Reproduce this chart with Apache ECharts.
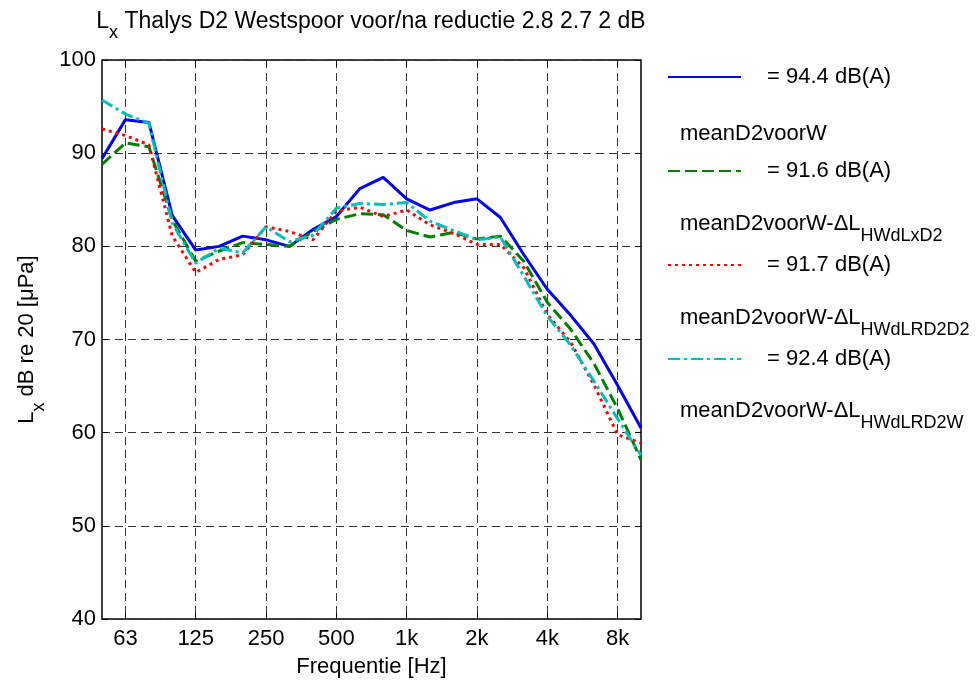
<!DOCTYPE html>
<html>
<head>
<meta charset="utf-8">
<title>Lx Thalys D2 Westspoor</title>
<script src="https://cdn.jsdelivr.net/npm/echarts@6/dist/echarts.min.js"></script>
<style>
  html, body { margin: 0; padding: 0; background: #fff; }
  #chart { width: 980px; height: 684px; }
</style>
</head>
<body>
<div id="chart"></div>
<script>
// 1/3-octave bands, only some of them get a label
const freqBands = ['50', '63', '80', '100', '125', '160', '200', '250', '315', '400', '500', '630',
  '800', '1k', '1.25k', '1.6k', '2k', '2.5k', '3.15k', '4k', '5k', '6.3k', '8k', '10k']
const labelledBands = ['63', '125', '250', '500', '1k', '2k', '4k', '8k']

const yMin = 40
const yMax = 100
const yStep = 10

const seriesNames = ['D2voorW', 'meanD2voorW', 'meanD2voorW-dL HWdLxD2', 'meanD2voorW-dL HWdLRD2D2']
const dbaTotals = ['94.4', '91.6', '91.7', '92.4']

const lxVoor = [89.4, 93.6, 93.3, 83.3, 79.6, 80.0, 81.1, 80.7, 80.0, 81.8, 83.2, 86.2,
  87.4, 85.1, 83.9, 84.7, 85.1, 83.1, 79.1, 75.4, 72.6, 69.5, 65.1, 60.5]
const lxMean = [88.8, 91.1, 90.7, 82.8, 78.4, 79.5, 80.4, 80.2, 80.0, 81.6, 82.9, 83.5,
  83.4, 81.7, 81.0, 81.5, 80.8, 81.1, 78.4, 74.0, 71.1, 67.4, 62.6, 57.1]
const lxMeanLxD2 = [92.6, 91.9, 90.9, 81.1, 77.2, 78.6, 79.1, 82.1, 81.6, 80.7, 83.8, 84.2,
  83.2, 83.9, 82.3, 81.4, 80.2, 80.2, 77.7, 72.7, 69.7, 65.1, 59.8, 58.9]
const lxMeanRD2D2 = [95.7, 94.2, 93.2, 82.5, 78.2, 79.8, 79.3, 82.1, 80.5, 81.2, 84.1, 84.6,
  84.5, 84.7, 82.7, 81.7, 80.7, 81.0, 76.8, 72.5, 69.4, 65.5, 61.5, 57.6]

// legend labels that sit between the legend rows: [main, subscript]
const legendLabels = [
  ['meanD2voorW', ''],
  ['meanD2voorW-\u0394L', 'HWdLxD2'],
  ['meanD2voorW-\u0394L', 'HWdLRD2D2'],
  ['meanD2voorW-\u0394L', 'HWdLRD2W']
]
const legendLabelY = [134, 224, 318, 411]

const FONT = '"Liberation Sans", Arial, Helvetica, sans-serif'
const richSub = {
  m: { fontSize: 22, lineHeight: 22, verticalAlign: 'top', color: '#000', fontFamily: FONT, fontWeight: 'normal' },
  s: { fontSize: 18, lineHeight: 18, verticalAlign: 'top', padding: [14, 0, 0, 0], color: '#000', fontFamily: FONT, fontWeight: 'normal' }
}
const richTitle = {
  m: { fontSize: 23, lineHeight: 23, verticalAlign: 'top', color: '#000', fontFamily: FONT, fontWeight: 'normal' },
  s: { fontSize: 18, lineHeight: 18, verticalAlign: 'top', padding: [14, 0, 0, 0], color: '#000', fontFamily: FONT, fontWeight: 'normal' }
}
const richSubZr = {
  m: { fontSize: 22, lineHeight: 22, verticalAlign: 'top', fill: '#000', fontFamily: FONT },
  s: { fontSize: 18, lineHeight: 18, verticalAlign: 'top', padding: [14, 0, 0, 0], fill: '#000', fontFamily: FONT }
}

const showBand = (i) => labelledBands.includes(freqBands[i])
const gridDash = { color: '#333', width: 1, type: [8, 5] }

const chart = echarts.init(document.getElementById('chart'))

const option = {
  animation: false,
  backgroundColor: '#fff',
  textStyle: { fontFamily: FONT },
  title: {
    text: '{m|L}{s|x}{m| Thalys D2 Westspoor voor/na reductie 2.8 2.7 2 dB}',
    left: 371,
    top: 10,
    padding: 0,
    textAlign: 'center',
    textStyle: { fontWeight: 'normal', rich: richTitle }
  },
  grid: {
    left: 102, right: 339, top: 60, bottom: 63,
    show: true, borderColor: '#000', borderWidth: 1.5, backgroundColor: 'transparent'
  },
  legend: {
    orient: 'vertical',
    left: 667,
    top: 65,
    padding: 0,
    itemWidth: 73,
    itemHeight: 14,
    itemGap: 70,
    selectedMode: false,
    data: seriesNames,
    formatter: (name) => '= ' + dbaTotals[seriesNames.indexOf(name)] + ' dB(A)',
    itemStyle: { color: 'transparent', borderColor: 'transparent', borderWidth: 0, opacity: 0 },
    textStyle: { fontSize: 22, lineHeight: 24, color: '#000', padding: [0, 0, 0, 21], fontFamily: FONT }
  },
  xAxis: [
    {
      type: 'category',
      data: freqBands,
      boundaryGap: false,
      position: 'bottom',
      name: 'Frequentie [Hz]',
      nameLocation: 'middle',
      nameGap: 34,
      nameTextStyle: { fontSize: 22, lineHeight: 24, color: '#000', fontFamily: FONT },
      axisLine: { show: false },
      axisTick: { show: true, inside: true, length: 6, interval: showBand, lineStyle: { color: '#000' } },
      axisLabel: { interval: showBand, fontSize: 22, color: '#000', margin: 9, fontFamily: FONT },
      splitLine: { show: true, interval: showBand, lineStyle: gridDash }
    },
    {
      type: 'category',
      data: freqBands,
      boundaryGap: false,
      position: 'top',
      axisLine: { show: false },
      axisTick: { show: true, inside: true, length: 6, interval: showBand, lineStyle: { color: '#000' } },
      axisLabel: { show: false },
      splitLine: { show: false }
    }
  ],
  yAxis: [
    {
      type: 'value',
      min: yMin, max: yMax, interval: yStep,
      name: '{m|L}{s|x}{m| dB re 20 [\u03bcPa]}',
      nameLocation: 'middle',
      nameGap: 60,
      nameTextStyle: { rich: richSub },
      axisLine: { show: false },
      axisTick: { show: true, inside: true, length: 6, lineStyle: { color: '#000' } },
      axisLabel: { fontSize: 22, color: '#000', margin: 6, fontFamily: FONT },
      splitLine: { show: true, lineStyle: gridDash }
    },
    {
      type: 'value',
      min: yMin, max: yMax, interval: yStep,
      position: 'right',
      axisLine: { show: false },
      axisTick: { show: true, inside: true, length: 6, lineStyle: { color: '#000' } },
      axisLabel: { show: false },
      splitLine: { show: false }
    }
  ],
  series: [
    { name: seriesNames[0], type: 'line', data: lxVoor, symbol: 'none', color: '#0000ff',
      lineStyle: { width: 3, color: '#0000ff', type: 'solid' } },
    { name: seriesNames[1], type: 'line', data: lxMean, symbol: 'none', color: '#008000',
      lineStyle: { width: 3, color: '#008000', type: [12, 5] } },
    { name: seriesNames[2], type: 'line', data: lxMeanLxD2, symbol: 'none', color: '#ff0000',
      lineStyle: { width: 3, color: '#ff0000', type: [3, 4] } },
    { name: seriesNames[3], type: 'line', data: lxMeanRD2D2, symbol: 'none', color: '#00bfbf',
      lineStyle: { width: 3, color: '#00bfbf', type: [12, 4, 3, 4] } }
  ],
  graphic: legendLabels.map((lab, i) => ({
    type: 'text',
    left: 680,
    top: legendLabelY[i] - 11,
    style: {
      text: lab[1] ? '{m|' + lab[0] + '}{s|' + lab[1] + '}' : '{m|' + lab[0] + '}',
      rich: richSubZr
    }
  }))
}

chart.setOption(option)
</script>
</body>
</html>
